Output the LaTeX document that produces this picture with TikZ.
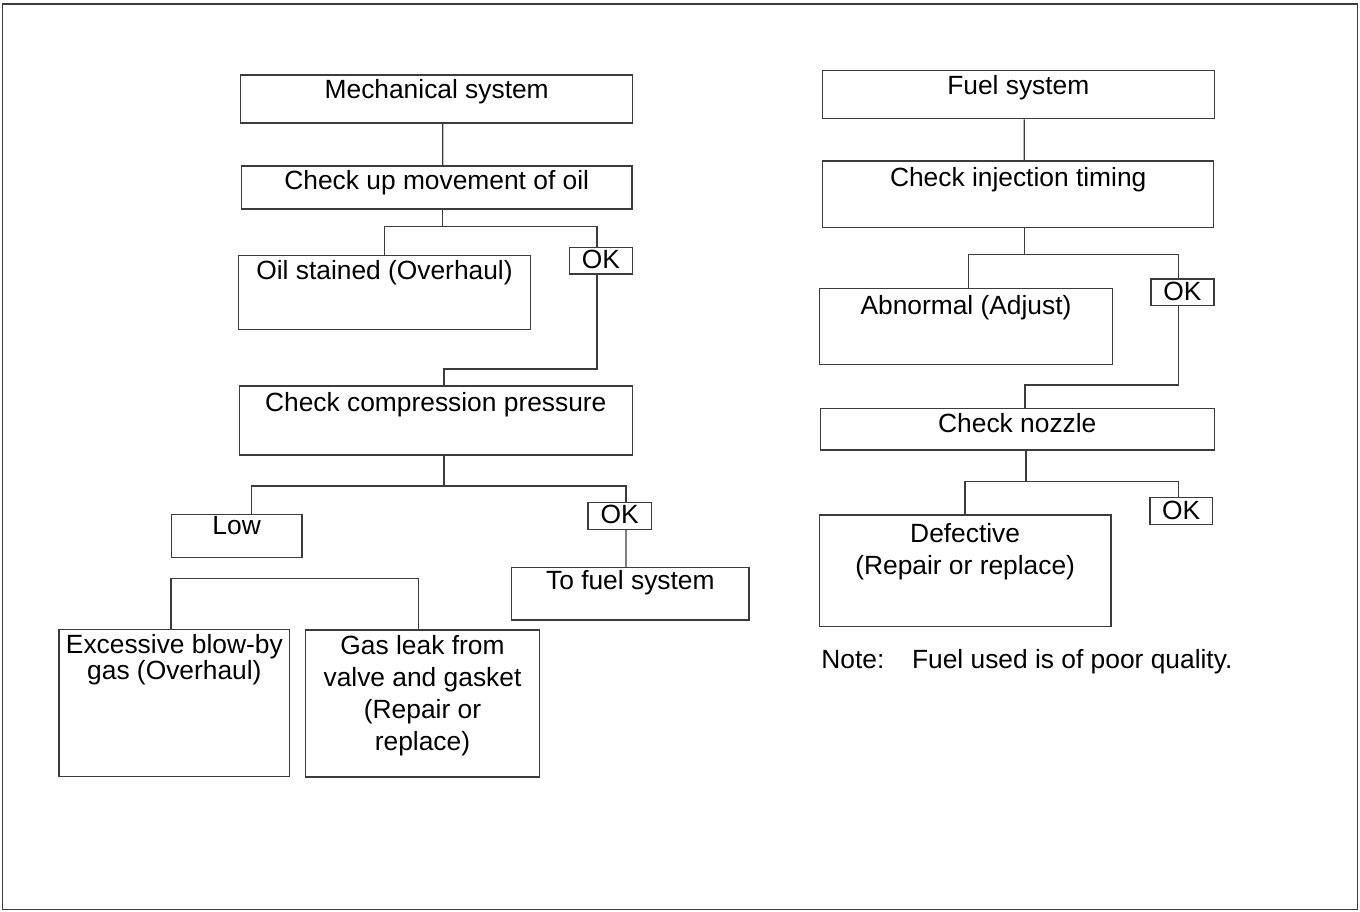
\documentclass[tikz,border=0pt]{standalone}
\usepackage{fontspec}
\setmainfont{Liberation Sans}
\usetikzlibrary{positioning,fit,calc}
\definecolor{FCLine}{HTML}{3C3C3C}

\begin{document}
\begin{tikzpicture}[x=0.02cm,y=-0.02cm,
  box/.style={draw=FCLine,line width=0.75pt,inner sep=0pt,rectangle},
  lbl/.style={inner sep=0pt,align=center,font=\fontsize{15}{18.2}\selectfont},
  link/.style={draw=FCLine,line width=0.75pt}]
\path[use as bounding box] (0,0) rectangle (1360,912);
\draw[FCLine,line width=0.9pt] (2.5,4) rectangle (1357.5,909.5);
% mechanical side
\node[box,fit={(240.7,75) (632.7,123)}] (mech) {};
\node[box,fit={(241.5,166) (632,209)}] (chkoil) {};
\node[box,fit={(238.3,255.7) (530.7,329.3)}] (stain) {};
\node[box,fit={(569.7,247.3) (632.3,274)}] (okA) {};
\node[box,fit={(239.3,386) (632.3,455)}] (chkcomp) {};
\node[box,fit={(171.3,514.3) (302,557.7)}] (low) {};
\node[box,fit={(588,502.3) (651.3,529.3)}] (okB) {};
\node[box,fit={(511.7,567.7) (749,620)}] (tofuel) {};
\node[box,fit={(59,629.3) (289.7,776.7)}] (blowby) {};
\node[box,fit={(305.7,630) (539.3,777)}] (gasleak) {};
\node[lbl,below=0.086cm of mech.north] (mech-t) {Mechanical system};
\node[lbl,below=0.094cm of chkoil.north] (chkoil-t) {Check up movement of oil};
\node[lbl,below=0.11cm of stain.north] (stain-t) {Oil stained (Overhaul)};
\node[lbl,below=0.054cm of okA.north] (okA-t) {OK};
\node[lbl,below=0.126cm of chkcomp.north] (chkcomp-t) {Check compression pressure};
\node[lbl,below=0.048cm of low.north] (low-t) {Low};
\node[lbl,below=0.054cm of okB.north] (okB-t) {OK};
\node[lbl,below=0.066cm of tofuel.north] (tofuel-t) {To fuel system};
\node[lbl,font=\fontsize{15}{14.6}\selectfont,below=0.114cm of blowby.north] (blowby-t) {Excessive blow-by\\gas (Overhaul)};
\node[lbl,below=0.12cm of gasleak.north] (gasleak-t) {Gas leak from\\valve and gasket\\(Repair or\\replace)};
\coordinate (jA) at (442.7,226.7);
\coordinate (jB) at (444,369);
\coordinate (jC) at (444,486);
\coordinate (barL) at (171,578.3);
\coordinate (barR) at (418.3,578.3);
\draw[link] ($(mech.south)+(6,0)$) -- ($(chkoil.north)+(6,0)$);
\draw[link] (chkoil.south -| jA) -- (jA) -| (stain.north);
\draw[link] (jA) -| ($(okA.north)+(-4,0)$);
\draw[link] ($(okA.south)+(-4,0)$) |- (jB) -- (jB |- chkcomp.north);
\draw[link] (chkcomp.south -| jC) -- (jC) -| ($(low.north)+(14.6,0)$);
\draw[link] (jC) -| ($(okB.north)+(6.3,0)$);
\draw[link] ($(okB.south)+(6.3,0)$) -- ($(tofuel.north)+(-4.4,0)$);
\draw[link] (blowby.north -| barL) -- (barL) -- (barR) -- (barR |- gasleak.north);
% fuel side
\node[box,fit={(822.3,70.7) (1214.3,118.7)}] (fuel) {};
\node[box,fit={(822.7,161) (1213.7,227.7)}] (inj) {};
\node[box,fit={(819.7,288.3) (1112.3,364.7)}] (abnorm) {};
\node[box,fit={(1151,279) (1214,305.7)}] (okC) {};
\node[box,fit={(820.3,408.3) (1214.3,450)}] (nozzle) {};
\node[box,fit={(819.3,515) (1111,626.7)}] (defect) {};
\node[box,fit={(1150,497.7) (1212.3,524.3)}] (okD) {};
\node[lbl,below=0.106cm of fuel.north] (fuel-t) {Fuel system};
\node[lbl,below=0.126cm of inj.north] (inj-t) {Check injection timing};
\node[lbl,below=0.154cm of abnorm.north] (abnorm-t) {Abnormal (Adjust)};
\node[lbl,below=0.066cm of okC.north] (okC-t) {OK};
\node[lbl,below=0.1cm of nozzle.north] (nozzle-t) {Check nozzle};
\node[lbl,below=0.166cm of defect.north] (defect-t) {Defective\\(Repair or replace)};
\node[lbl,below=0.08cm of okD.north] (okD-t) {OK};
\coordinate (jE) at (1024.3,254.3);
\coordinate (jF) at (1025,385);
\coordinate (jG) at (1026,481.7);
\draw[link] ($(fuel.south)+(6,0)$) -- ($(inj.north)+(6,0)$);
\draw[link] (inj.south -| jE) -- (jE) -| ($(abnorm.north)+(2.3,0)$);
\draw[link] (jE) -| ($(okC.north)+(-4.2,0)$);
\draw[link] ($(okC.south)+(-4.2,0)$) |- (jF) -- (jF |- nozzle.north);
\draw[link] (nozzle.south -| jG) -- (jG) -| (defect.north);
\draw[link] (jG) -| ($(okD.north)+(-2.5,0)$);
\node[lbl,anchor=base west] (note) at (821,668.3) {Note:};
\node[lbl,anchor=base west] (note-t) at (911.7,668.3) {Fuel used is of poor quality.};
\end{tikzpicture}
\end{document}
